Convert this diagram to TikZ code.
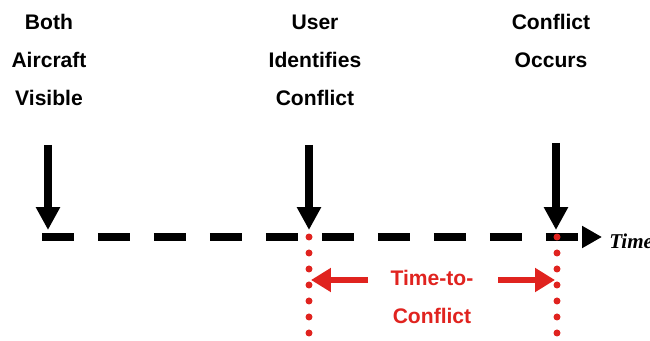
\documentclass[tikz,border=0pt]{standalone}
\usepackage{fontspec}
\setmainfont{Liberation Sans}
\newfontfamily\timesfont{Liberation Serif}
\usetikzlibrary{arrows.meta}
\definecolor{tRed}{HTML}{E0231F}

\begin{document}
\begin{tikzpicture}[x=0.02cm, y=-0.02cm,
          lbl/.style={font=\bfseries\fontsize{12}{21.6}\selectfont, align=center, inner sep=0pt},
          down/.style={-{Triangle[length=0.46cm, width=0.46cm]}, line width=0.16cm, black},
          ttc/.style={-{Triangle[length=0.4cm, width=0.46cm]}, line width=0.14cm, tRed},
          dots/.style={tRed, line width=0.14cm, line cap=round, dash pattern=on 0pt off 0.32cm}]
        \clip (0,0) rectangle (650,341);
        % event labels
        \node[lbl] (both) at (49,60) {Both\\Aircraft\\Visible};
        \node[lbl] (user) at (315,60) {User\\Identifies\\Conflict};
        \node[lbl] (occ) at (551,41) {Conflict\\Occurs};
        % time axis
        \coordinate (t0) at (42,237);
        \coordinate (t1) at (602,237);
        \draw[line width=0.15cm, dash pattern=on 0.64cm off 0.48cm,
          -{Triangle[length=0.4cm, width=0.42cm]}] (t0) -- (t1);
        \node[font=\timesfont\bfseries\itshape\fontsize{12}{14}\selectfont, anchor=base west,
          inner sep=0pt] (time) at (609,249) {Time};
        % event arrows
        \coordinate (vis) at (48,145);
        \coordinate (vis tip) at (48,230);
        \coordinate (id) at (309,145);
        \coordinate (id tip) at (309,230);
        \coordinate (cf) at (556,143);
        \coordinate (cf tip) at (556,230);
        \draw[down] (vis) -- (vis tip);
        \draw[down] (id) -- (id tip);
        \draw[down] (cf) -- (cf tip);
        % time-to-conflict interval
        \coordinate (id low) at (309,350);
        \coordinate (cf low) at (557,350);
        \draw[dots] (309,237) -- (id low);
        \draw[dots] (557,237) -- (cf low);
        \node[lbl, text=tRed] (ttc) at (432,297) {Time-to-\\Conflict};
        \draw[ttc] (368,280) -- (311,280);
        \draw[ttc] (498,280) -- (555,280);
      \end{tikzpicture}
\end{document}
